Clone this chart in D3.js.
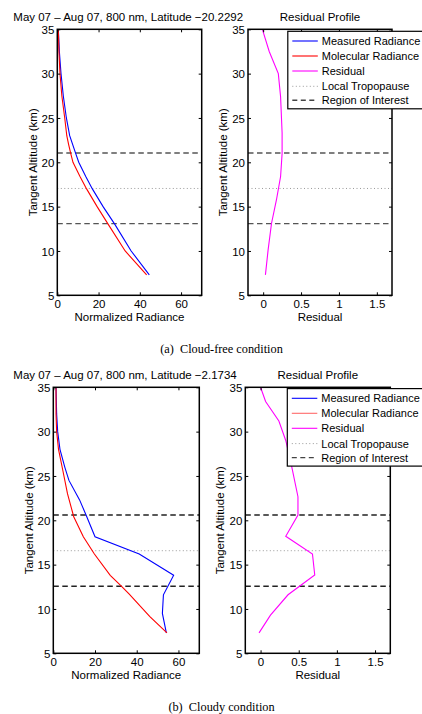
<!DOCTYPE html>
<html>
<head>
<meta charset="utf-8">
<script src="https://cdn.jsdelivr.net/npm/d3@7"></script>
<style>
  html, body { margin: 0; padding: 0; background: #fff; }
  svg { display: block; }
  text { font-family: "Liberation Sans", Arial, Helvetica, sans-serif; fill: #000; }
  .cap { font-family: "Liberation Serif", "Times New Roman", serif; white-space: pre; }
</style>
</head>
<body>
<svg id="chart" width="422" height="714"></svg>
<script>
// ---------------- data ----------------
// (a) Cloud-free condition
const altA_meas = [35, 32.5, 30, 27.5, 25, 23, 21, 20, 18.4, 17, 15, 13, 10, 7.3];
const measA     = [0.5, 1.0, 1.8, 2.9, 4.4, 6.0, 8.9, 10.4, 13.8, 17.0, 22.2, 27.9, 35.8, 44.6];
const altA_mol  = [35, 32.5, 30, 27.5, 25, 23, 22, 21, 20, 18.4, 17, 15, 13, 10, 7.3];
const molA      = [0.5, 0.8, 1.3, 2.2, 3.6, 4.6, 5.5, 6.5, 7.6, 11.0, 14.2, 19.3, 24.7, 32.9, 43.3];
const altA_res  = [35, 32.5, 30, 27.4, 23.3, 21, 18.4, 15.75, 13.1, 10.1, 7.3];
const resA      = [-0.01, 0.08, 0.20, 0.23, 0.25, 0.25, 0.23, 0.175, 0.11, 0.065, 0.03];
const tropoA = 17.05;
const roiA = [21.05, 13.08];
const titleA = "May 07 \u2013 Aug 07, 800 nm, Latitude \u221220.2292";
const captionA = "(a)  Cloud-free condition";

// (b) Cloudy condition
const altB_meas = [35, 32, 30, 28, 26, 24.5, 22.3, 20.6, 18.15, 16.2, 13.8, 11.6, 9.5, 7.3];
const measB     = [1.3, 1.6, 2.1, 3.2, 5.5, 7.5, 12.6, 15.7, 20.0, 41.2, 57.7, 52.8, 52.3, 54.2];
const altB_mol  = [35, 32, 30, 28, 25.7, 23, 20.4, 18.15, 16.2, 13.8, 12.6, 11.69, 9.13, 7.3];
const molB      = [1.3, 1.3, 1.6, 2.5, 4.5, 6.8, 9.8, 14.4, 19.7, 27.3, 32.5, 36.3, 46.3, 54.5];
const altB_res  = [35, 33.4, 31.2, 29, 26.4, 22.66, 20.6, 18.2, 16.2, 13.83, 11.6, 9.3, 7.3];
const resB      = [0.0, 0.066, 0.24, 0.33, 0.40, 0.49, 0.49, 0.33, 0.68, 0.71, 0.36, 0.13, -0.02];
const tropoB = 16.57;
const roiB = [20.6, 12.56];
const titleB = "May 07 \u2013 Aug 07, 800 nm, Latitude \u22122.1734";
const captionB = "(b)  Cloudy condition";

// axes ticks / labels
const altDomain = [5, 35];
const altTicks = [5, 10, 15, 20, 25, 30, 35];
const radDomain = [0, 70];
const radTicks = [0, 20, 40, 60];
const resDomain = [-0.2, 1.7];
const resTicks = [0, 0.5, 1, 1.5];
const legendLabels = ["Measured Radiance", "Molecular Radiance", "Residual", "Local Tropopause", "Region of Interest"];
const rightTitle = "Residual Profile";
const yLabel = "Tangent Altitude (km)";
const xLabelLeft = "Normalized Radiance";
const xLabelRight = "Residual";

// ---------------- drawing ----------------
const svg = d3.select("#chart");
const FS = 11.5;

function panel(cfg) {
  const g = svg.append("g");
  const x = d3.scaleLinear().domain(cfg.xDomain).range([cfg.x0, cfg.x1]);
  const y = d3.scaleLinear().domain(altDomain).range([cfg.y1, cfg.y0]);

  // reference lines
  g.append("line").attr("x1", cfg.x0).attr("x2", cfg.x1)
    .attr("y1", y(cfg.tropo)).attr("y2", y(cfg.tropo))
    .attr("stroke", "#999").attr("stroke-width", 1).attr("stroke-dasharray", "1,2.5");
  cfg.roi.forEach(v => {
    g.append("line").attr("x1", cfg.x0).attr("x2", cfg.x1)
      .attr("y1", y(v)).attr("y2", y(v))
      .attr("stroke", cfg.roiColor).attr("stroke-width", 1.4).attr("stroke-dasharray", "5.5,3.5");
  });

  // series
  const line = d3.line().x(d => x(d[0])).y(d => y(d[1]));
  cfg.series.forEach(s => {
    g.append("path").datum(d3.zip(s.v, s.alt))
      .attr("d", line).attr("fill", "none")
      .attr("stroke", s.color).attr("stroke-width", 1.1);
  });

  // frame
  g.append("rect").attr("x", cfg.x0).attr("y", cfg.y0)
    .attr("width", cfg.x1 - cfg.x0).attr("height", cfg.y1 - cfg.y0)
    .attr("fill", "none").attr("stroke", "#000").attr("stroke-width", 1.5);

  // axes (ticks inward) via d3 axes
  const axB = g.append("g").attr("transform", `translate(0,${cfg.y1})`)
    .call(d3.axisBottom(x).tickValues(cfg.xTicks).tickSize(-3).tickPadding(5).tickFormat(cfg.fmt));
  const axT = g.append("g").attr("transform", `translate(0,${cfg.y0})`)
    .call(d3.axisTop(x).tickValues(cfg.xTicks).tickSize(-3).tickFormat(""));
  const axL = g.append("g").attr("transform", `translate(${cfg.x0},0)`)
    .call(d3.axisLeft(y).tickValues(altTicks).tickSize(-3).tickPadding(3).tickFormat(d3.format("d")));
  const axR = g.append("g").attr("transform", `translate(${cfg.x1},0)`)
    .call(d3.axisRight(y).tickValues(altTicks).tickSize(-3).tickFormat(""));
  [axB, axT, axL, axR].forEach(a => {
    a.select(".domain").remove();
    a.selectAll(".tick line").attr("stroke", "#000").attr("stroke-width", 1);
    a.selectAll("text").style("font-size", FS + "px").style("font-family", "'Liberation Sans', Arial, sans-serif").attr("fill", "#000");
  });
  axL.selectAll("text").attr("dy", "0.36em");

  // labels
  g.append("text").attr("x", (cfg.x0 + cfg.x1) / 2).attr("y", cfg.y1 + 26)
    .attr("text-anchor", "middle").style("font-size", FS + "px").text(cfg.xLabel);
  g.append("text").attr("transform", `translate(${cfg.yLabX},${(cfg.y0 + cfg.y1) / 2}) rotate(-90)`)
    .attr("text-anchor", "middle").style("font-size", FS + "px").text(yLabel);

  return { g, x, y };
}

function legend(lx, ly, molColor) {
  const g = svg.append("g");
  g.append("rect").attr("x", lx).attr("y", ly).attr("width", 150).attr("height", 77.5)
    .attr("fill", "#fff").attr("stroke", "#000").attr("stroke-width", 1.2);
  const styles = [
    { c: "#0000ff", d: null, w: 1.1 },
    { c: molColor, d: null, w: 1.1 },
    { c: "#ff00ff", d: null, w: 1.1 },
    { c: "#999", d: "1,2.5", w: 1 },
    { c: "#444", d: "5,3.5", w: 1.4 }
  ];
  const rowY = [9.7, 24.7, 39.7, 55, 69];
  legendLabels.forEach((lab, i) => {
    const yy = ly + rowY[i];
    const ln = g.append("line").attr("x1", lx + 4.5).attr("x2", lx + 30)
      .attr("y1", yy).attr("y2", yy).attr("stroke", styles[i].c).attr("stroke-width", styles[i].w);
    if (styles[i].d) ln.attr("stroke-dasharray", styles[i].d);
    g.append("text").attr("x", lx + 34).attr("y", yy + 4).style("font-size", "11px").text(lab);
  });
}

function figure(o) {
  panel({
    x0: o.lx0, x1: o.lx1, y0: o.y0, y1: o.y1, xDomain: radDomain, xTicks: radTicks,
    fmt: d3.format("d"), tropo: o.tropo, roi: o.roi, roiColor: o.roiColor,
    xLabel: xLabelLeft, yLabX: o.lYLab,
    series: [
      { alt: o.altMeas, v: o.meas, color: "#0000ff" },
      { alt: o.altMol, v: o.mol, color: "#ff0000" }
    ]
  });
  panel({
    x0: o.rx0, x1: o.rx1, y0: o.y0, y1: o.y1, xDomain: resDomain, xTicks: resTicks,
    fmt: d => (d === 0 ? "0" : d3.format("~g")(d)), tropo: o.tropo, roi: o.roi, roiColor: o.roiColor,
    xLabel: xLabelRight, yLabX: o.rYLab,
    series: [{ alt: o.altRes, v: o.res, color: "#ff00ff" }]
  });
  legend(o.legX, o.legY, o.molColor);
  svg.append("text").attr("x", 13.3).attr("y", o.y0 - 8.5).style("font-size", FS + "px").text(o.title);
  svg.append("text").attr("x", (o.rx0 + o.rx1) / 2).attr("y", o.y0 - 8.5)
    .attr("text-anchor", "middle").style("font-size", FS + "px").text(rightTitle);
  svg.append("text").attr("class", "cap").attr("x", 221.5).attr("y", o.capY)
    .attr("text-anchor", "middle").style("font-size", "12.3px").text(o.caption);
}

figure({
  lx0: 57.3, lx1: 201.7, rx0: 248, rx1: 392, y0: 29.3, y1: 295.3,
  lYLab: 36.5, rYLab: 226.5,
  altMeas: altA_meas, meas: measA, altMol: altA_mol, mol: molA, altRes: altA_res, res: resA,
  tropo: tropoA, roi: roiA, roiColor: "#555", molColor: "#ff0000",
  legX: 287.8, legY: 31.3, title: titleA, caption: captionA, capY: 352.5
});
figure({
  lx0: 53.3, lx1: 199.3, rx0: 245.3, rx1: 390.3, y0: 387.3, y1: 653.3,
  lYLab: 32.8, rYLab: 224,
  altMeas: altB_meas, meas: measB, altMol: altB_mol, mol: molB, altRes: altB_res, res: resB,
  tropo: tropoB, roi: roiB, roiColor: "#222", molColor: "#ff6a6a",
  legX: 287.3, legY: 388.6, title: titleB, caption: captionB, capY: 710.8
});
</script>
</body>
</html>
